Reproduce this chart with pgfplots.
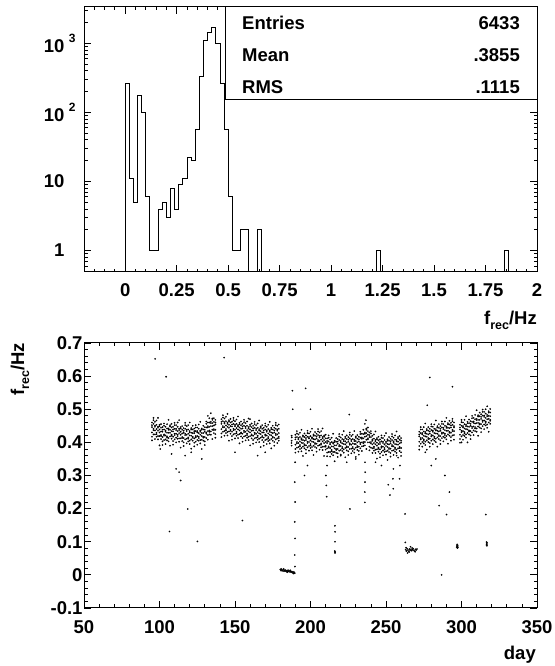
\documentclass[border=0pt]{standalone}
\usepackage{fontspec}
\setmainfont{Liberation Sans}
\usepackage{pgfplots}
\usepackage{pgfplotstable}
\pgfplotsset{compat=1.18}

\pgfplotstableread{
day y1 y2 y3 y4 y5 y6
95 0.446 0.430 0.460 0.417 0.452 0.406
96 0.437 0.456 0.424 0.467 0.441 0.474
97 0.451 0.436 0.447 0.424 0.462 0.410
98 0.425 0.440 0.453 0.429 0.417 0.466
99 0.444 0.419 0.435 0.448 0.409 0.474
100 0.430 0.439 0.419 0.453 0.449 0.391
101 0.444 0.422 0.433 0.410 0.419 0.455
102 0.432 0.416 0.446 0.403 0.438 0.392
103 0.420 0.439 0.407 0.450 0.424 0.457
104 0.436 0.421 0.432 0.409 0.447 0.395
105 0.414 0.429 0.442 0.418 0.406 0.455
106 0.438 0.413 0.429 0.442 0.403 0.468
107 0.429 0.438 0.418 0.452 0.448 0.390
108 0.445 0.423 0.434 0.411 0.420 0.456
109 0.433 0.417 0.447 0.404 0.439 0.393
110 0.422 0.441 0.409 0.452 0.426 0.459
111 0.441 0.426 0.437 0.414 0.452 0.400
112 0.419 0.434 0.447 0.423 0.411 0.460
113 0.437 0.412 0.428 0.441 0.402 0.467
114 0.423 0.432 0.412 0.446 0.442 0.384
115 0.438 0.416 0.427 0.404 0.413 0.449
116 0.429 0.413 0.443 0.400 0.435 0.389
117 0.422 0.441 0.409 0.452 0.426 0.459
118 0.438 0.423 0.434 0.411 0.449 0.397
119 0.411 0.426 0.439 0.415 0.403 0.452
120 0.430 0.405 0.421 0.434 0.395 0.460
121 0.420 0.429 0.409 0.443 0.439 0.381
122 0.439 0.417 0.428 0.405 0.414 0.450
123 0.428 0.412 0.442 0.399 0.434 0.388
124 0.415 0.434 0.402 0.445 0.419 0.452
125 0.434 0.419 0.430 0.407 0.445 0.393
126 0.413 0.428 0.441 0.417 0.405 0.454
127 0.432 0.407 0.423 0.436 0.397 0.462
128 0.419 0.428 0.408 0.442 0.438 0.380
129 0.439 0.417 0.428 0.405 0.414 0.450
130 0.432 0.416 0.446 0.403 0.438 0.392
131 0.426 0.445 0.413 0.456 0.430 0.463
132 0.449 0.434 0.445 0.422 0.460 0.408
133 0.432 0.447 0.460 0.436 0.424 0.473
134 0.458 0.433 0.449 0.462 0.423 0.488
135 0.449 0.458 0.438 0.472 0.468 0.410
136 0.462 0.440 0.451 0.428 0.437 0.473
137 0.454 0.438 0.468 0.425 0.460 0.414
141 0.456 0.440 0.470 0.427 0.462 0.416
142 0.445 0.464 0.432 0.475 0.449 0.482
143 0.461 0.446 0.457 0.434 0.472 0.420
144 0.436 0.451 0.464 0.440 0.428 0.477
145 0.456 0.431 0.447 0.460 0.421 0.486
146 0.444 0.453 0.433 0.467 0.463 0.405
147 0.460 0.438 0.449 0.426 0.435 0.471
148 0.448 0.432 0.462 0.419 0.454 0.408
149 0.437 0.456 0.424 0.467 0.441 0.474
150 0.453 0.438 0.449 0.426 0.464 0.412
151 0.428 0.443 0.456 0.432 0.420 0.469
152 0.448 0.423 0.439 0.452 0.413 0.478
153 0.436 0.445 0.425 0.459 0.455 0.397
154 0.452 0.430 0.441 0.418 0.427 0.463
155 0.442 0.426 0.456 0.413 0.448 0.402
156 0.431 0.450 0.418 0.461 0.435 0.468
157 0.447 0.432 0.443 0.420 0.458 0.406
158 0.422 0.437 0.450 0.426 0.414 0.463
159 0.442 0.417 0.433 0.446 0.407 0.472
160 0.430 0.439 0.419 0.453 0.449 0.391
161 0.446 0.424 0.435 0.412 0.421 0.457
162 0.436 0.420 0.450 0.407 0.442 0.396
163 0.425 0.444 0.412 0.455 0.429 0.462
164 0.441 0.426 0.437 0.414 0.452 0.400
165 0.416 0.431 0.444 0.420 0.408 0.457
166 0.436 0.411 0.427 0.440 0.401 0.466
167 0.425 0.434 0.414 0.448 0.444 0.386
168 0.441 0.419 0.430 0.407 0.416 0.452
169 0.430 0.414 0.444 0.401 0.436 0.390
170 0.420 0.439 0.407 0.450 0.424 0.457
171 0.436 0.421 0.432 0.409 0.447 0.395
172 0.412 0.427 0.440 0.416 0.404 0.453
173 0.432 0.407 0.423 0.436 0.397 0.462
174 0.421 0.430 0.410 0.444 0.440 0.382
175 0.439 0.417 0.428 0.405 0.414 0.450
176 0.430 0.414 0.444 0.401 0.436 0.390
177 0.422 0.441 0.409 0.452 0.426 0.459
178 0.439 0.424 0.435 0.412 0.450 0.398
179 0.413 0.428 0.441 0.417 0.405 0.454
190 0.409 0.393 0.423 0.380 0.415 0.369
191 0.397 0.416 0.384 0.427 0.401 0.434
192 0.413 0.398 0.409 0.386 0.424 0.372
193 0.388 0.403 0.416 0.392 0.380 0.429
194 0.408 0.383 0.399 0.412 0.373 0.438
195 0.398 0.407 0.387 0.421 0.417 0.359
196 0.416 0.394 0.405 0.382 0.391 0.427
197 0.407 0.391 0.421 0.378 0.413 0.367
198 0.398 0.417 0.385 0.428 0.402 0.435
199 0.416 0.401 0.412 0.389 0.427 0.375
200 0.391 0.406 0.419 0.395 0.383 0.432
201 0.411 0.386 0.402 0.415 0.376 0.441
202 0.401 0.410 0.390 0.424 0.420 0.362
203 0.420 0.398 0.409 0.386 0.395 0.431
204 0.412 0.396 0.426 0.383 0.418 0.372
205 0.403 0.422 0.390 0.433 0.407 0.440
206 0.419 0.404 0.415 0.392 0.430 0.378
207 0.393 0.408 0.421 0.397 0.385 0.434
208 0.412 0.387 0.403 0.416 0.377 0.442
209 0.398 0.407 0.387 0.421 0.417 0.359
210 0.412 0.390 0.401 0.378 0.387 0.423
211 0.398 0.382 0.412 0.369 0.404 0.358
212 0.384 0.403 0.371 0.414 0.388 0.421
213 0.398 0.383 0.394 0.371 0.409 0.357
214 0.373 0.388 0.401 0.377 0.365 0.414
215 0.396 0.371 0.387 0.400 0.361 0.426
216 0.382 0.391 0.371 0.405 0.401 0.343
217 0.402 0.380 0.391 0.368 0.377 0.413
218 0.396 0.380 0.410 0.367 0.402 0.356
219 0.388 0.407 0.375 0.418 0.392 0.425
220 0.404 0.389 0.400 0.377 0.415 0.363
221 0.382 0.397 0.410 0.386 0.374 0.423
222 0.404 0.379 0.395 0.408 0.369 0.434
223 0.394 0.403 0.383 0.417 0.413 0.355
224 0.410 0.388 0.399 0.376 0.385 0.421
225 0.402 0.386 0.416 0.373 0.408 0.362
226 0.393 0.412 0.380 0.423 0.397 0.430
227 0.408 0.393 0.404 0.381 0.419 0.367
228 0.382 0.397 0.410 0.386 0.374 0.423
229 0.404 0.379 0.395 0.408 0.369 0.434
230 0.395 0.404 0.384 0.418 0.414 0.356
231 0.411 0.389 0.400 0.377 0.386 0.422
232 0.403 0.387 0.417 0.374 0.409 0.363
233 0.395 0.414 0.382 0.425 0.399 0.432
234 0.415 0.400 0.411 0.388 0.426 0.374
235 0.397 0.412 0.425 0.401 0.389 0.438
236 0.426 0.401 0.417 0.430 0.391 0.456
237 0.419 0.428 0.408 0.442 0.438 0.380
238 0.434 0.412 0.423 0.400 0.409 0.445
239 0.416 0.400 0.430 0.387 0.422 0.376
240 0.397 0.416 0.384 0.427 0.401 0.434
241 0.409 0.394 0.405 0.382 0.420 0.368
242 0.383 0.398 0.411 0.387 0.375 0.424
243 0.403 0.378 0.394 0.407 0.368 0.433
244 0.390 0.399 0.379 0.413 0.409 0.351
245 0.406 0.384 0.395 0.372 0.381 0.417
246 0.395 0.379 0.409 0.366 0.401 0.355
247 0.384 0.403 0.371 0.414 0.388 0.421
248 0.402 0.387 0.398 0.375 0.413 0.361
249 0.379 0.394 0.407 0.383 0.371 0.420
250 0.398 0.373 0.389 0.402 0.363 0.428
251 0.386 0.395 0.375 0.409 0.405 0.347
252 0.405 0.383 0.394 0.371 0.380 0.416
253 0.397 0.381 0.411 0.368 0.403 0.357
254 0.388 0.407 0.375 0.418 0.392 0.425
255 0.403 0.388 0.399 0.376 0.414 0.362
256 0.380 0.395 0.408 0.384 0.372 0.421
257 0.403 0.378 0.394 0.407 0.368 0.433
258 0.393 0.402 0.382 0.416 0.412 0.354
259 0.408 0.386 0.397 0.374 0.383 0.419
260 0.399 0.383 0.413 0.370 0.405 0.359
272 0.418 0.402 0.432 0.389 0.424 0.378
273 0.409 0.428 0.396 0.439 0.413 0.446
274 0.428 0.413 0.424 0.401 0.439 0.387
275 0.405 0.420 0.433 0.409 0.397 0.446
276 0.427 0.402 0.418 0.431 0.392 0.457
277 0.417 0.426 0.406 0.440 0.436 0.378
278 0.435 0.413 0.424 0.401 0.410 0.446
279 0.427 0.411 0.441 0.398 0.433 0.387
280 0.418 0.437 0.405 0.448 0.422 0.455
281 0.436 0.421 0.432 0.409 0.447 0.395
282 0.413 0.428 0.441 0.417 0.405 0.454
283 0.436 0.411 0.427 0.440 0.401 0.466
284 0.426 0.435 0.415 0.449 0.445 0.387
285 0.444 0.422 0.433 0.410 0.419 0.455
286 0.435 0.419 0.449 0.406 0.441 0.395
287 0.426 0.445 0.413 0.456 0.430 0.463
288 0.444 0.429 0.440 0.417 0.455 0.403
289 0.422 0.437 0.450 0.426 0.414 0.463
290 0.444 0.419 0.435 0.448 0.409 0.474
291 0.435 0.444 0.424 0.458 0.454 0.396
292 0.454 0.432 0.443 0.420 0.429 0.465
293 0.445 0.429 0.459 0.416 0.451 0.405
294 0.434 0.453 0.421 0.464 0.438 0.471
295 0.449 0.434 0.445 0.422 0.460 0.408
299 0.439 0.423 0.453 0.410 0.445 0.399
300 0.431 0.450 0.418 0.461 0.435 0.468
301 0.449 0.434 0.445 0.422 0.460 0.408
302 0.427 0.442 0.455 0.431 0.419 0.468
303 0.449 0.424 0.440 0.453 0.414 0.479
304 0.439 0.448 0.428 0.462 0.458 0.400
305 0.458 0.436 0.447 0.424 0.433 0.469
306 0.450 0.434 0.464 0.421 0.456 0.410
307 0.443 0.462 0.430 0.473 0.447 0.480
308 0.463 0.448 0.459 0.436 0.474 0.422
309 0.442 0.457 0.470 0.446 0.434 0.483
310 0.467 0.442 0.458 0.471 0.432 0.497
311 0.459 0.468 0.448 0.482 0.478 0.420
312 0.479 0.457 0.468 0.445 0.454 0.490
313 0.471 0.455 0.485 0.442 0.477 0.431
314 0.462 0.481 0.449 0.492 0.466 0.499
315 0.481 0.466 0.477 0.454 0.492 0.440
316 0.459 0.474 0.487 0.463 0.451 0.500
317 0.479 0.454 0.470 0.483 0.444 0.509
318 0.471 0.480 0.460 0.494 0.490 0.432
319 0.490 0.468 0.479 0.456 0.465 0.501
}\bands

\pgfplotstableread{
day f
180.0 0.016
180.4 0.013
180.8 0.015
181.2 0.012
181.6 0.014
182.0 0.016
182.4 0.011
182.8 0.013
183.2 0.015
183.6 0.012
184.0 0.010
184.4 0.013
184.8 0.011
185.2 0.014
185.6 0.010
186.0 0.012
186.4 0.009
186.8 0.011
187.2 0.008
187.6 0.010
188.0 0.007
188.4 0.009
188.8 0.006
189.2 0.008
189.6 0.005
180.6 0.018
182.2 0.018
184.6 0.008
186.6 0.014
188.6 0.004
189.7 0.025
189.6 0.060
189.8 0.110
189.6 0.160
189.8 0.220
189.6 0.280
189.8 0.340
187.5 0.390
187.5 0.405
187.6 0.415
187.4 0.398
187.5 0.420
216.2 0.066
216.2 0.070
216.3 0.068
216.1 0.072
216.2 0.100
216.3 0.130
216.2 0.148
263.0 0.076
263.5 0.072
264.0 0.079
264.5 0.075
265.0 0.071
265.5 0.078
266.0 0.074
266.5 0.077
267.0 0.073
267.5 0.076
268.0 0.079
268.5 0.074
269.0 0.071
269.5 0.077
270.0 0.075
270.5 0.078
263.3 0.082
265.3 0.069
267.3 0.081
269.3 0.070
266.2 0.085
264.2 0.066
262.6 0.184
262.8 0.098
296.8 0.084
297.0 0.088
297.2 0.085
297.4 0.090
297.6 0.083
297.1 0.092
297.3 0.081
297.5 0.087
316.6 0.090
316.7 0.094
316.8 0.097
316.7 0.092
316.6 0.099
316.8 0.088
97.1 0.652
104.4 0.598
142.8 0.656
188.0 0.556
196.8 0.563
225.7 0.484
236.7 0.467
279.0 0.596
294.0 0.568
277.3 0.512
106.6 0.131
125.1 0.101
154.9 0.164
118.7 0.199
286.8 0.000
316.1 0.182
290.1 0.182
285.2 0.209
226.1 0.199
111.0 0.320
113.0 0.310
114.0 0.285
251.5 0.272
252.6 0.241
236.0 0.219
236.0 0.250
236.1 0.280
236.2 0.310
236.1 0.340
210.7 0.236
210.5 0.270
210.2 0.300
211.0 0.330
254.8 0.260
254.6 0.290
254.9 0.320
259.0 0.290
259.2 0.330
117.0 0.360
121.0 0.370
128.0 0.350
100.5 0.380
108.0 0.365
132.0 0.480
150.0 0.370
165.0 0.360
170.0 0.370
160.0 0.470
188.2 0.500
200.0 0.500
196.0 0.300
198.0 0.330
220.0 0.360
224.0 0.340
230.0 0.350
243.0 0.340
247.0 0.330
257.0 0.360
276.0 0.370
280.0 0.330
283.0 0.350
289.0 0.300
292.0 0.250
300.0 0.400
}\extra

\pgfplotsset{
  rootaxis/.style={
    scale only axis, width=453bp, height=265bp,
    axis line style={line width=1bp},
    every tick/.style={black, line width=0.8bp},
    major tick length=7bp, minor tick length=3.5bp,
    tick label style={font=\fontsize{18.5bp}{20bp}\selectfont\bfseries},
    /pgf/number format/assume math mode=true,
  },
  dots/.style={only marks, mark=*, mark size=0.65bp,
    mark options={draw=none, fill=black!72}},
}

\newcommand{\tenpow}[1]{10\rlap{\hspace{4.5bp}\raisebox{10bp}{\fontsize{12bp}{12bp}\selectfont #1}}}

\begin{document}
\begin{tikzpicture}[x=1bp,y=1bp]
\useasboundingbox (0,0) rectangle (555,666);

% ---------------- top histogram ----------------
\begin{axis}[rootaxis,
  at={(84bp,394bp)}, anchor=south west,
  ymode=log,
  xmin=-0.2, xmax=2, ymin=0.49, ymax=3350,
  xtick={0,0.25,0.5,0.75,1,1.25,1.5,1.75,2},
  xticklabels={0,0.25,0.5,0.75,1,1.25,1.5,1.75,2},
  minor xtick={-0.15,-0.1,-0.05,0.05,0.1,0.15,0.2,0.3,0.35,0.4,0.45,0.55,0.6,0.65,0.7,0.8,0.85,0.9,0.95,1.05,1.1,1.15,1.2,1.3,1.35,1.4,1.45,1.55,1.6,1.65,1.7,1.8,1.85,1.9,1.95},
  ytick={1,10,100,1000},
  yticklabels={1,10,\tenpow{2},\tenpow{3}},
  minor ytick={0.5,0.6,0.7,0.8,0.9,2,3,4,5,6,7,8,9,20,30,40,50,60,70,80,90,200,300,400,500,600,700,800,900,2000,3000},
  xticklabel style={yshift=-8.5bp},
  yticklabel style={xshift=-16bp},
]
\addplot[const plot, black, line width=0.8bp] coordinates {
(0,0.1) (0,266) (0.02,11) (0.04,5) (0.06,176) (0.08,100) (0.10,6)
(0.12,1) (0.14,1) (0.16,4) (0.18,5) (0.20,3) (0.22,8) (0.24,4)
(0.26,9) (0.28,11) (0.30,22) (0.32,20) (0.34,57) (0.36,330)
(0.38,1100) (0.40,1450) (0.42,1680) (0.44,1000) (0.46,262)
(0.48,57) (0.50,6) (0.52,1) (0.54,1) (0.56,2) (0.58,2) (0.60,0.1)
(0.64,2) (0.66,0.1) (1.22,1) (1.24,0.1) (1.84,1) (1.86,0.1) (2,0.1)
};
\end{axis}

% stats box
\draw[line width=1bp, fill=white] (225.5,566) rectangle (537,659);
\begin{scope}[every node/.style={inner sep=0pt, font=\fontsize{18.5bp}{20bp}\selectfont\bfseries}]
\node[anchor=base west] at (242,636) {Entries};
\node[anchor=base east] at (520,636) {6433};
\node[anchor=base west] at (242,604.3) {Mean};
\node[anchor=base east] at (520,604.3) {.3855};
\node[anchor=base west] at (242,572.7) {RMS};
\node[anchor=base east] at (520,572.7) {.1115};
\node[anchor=base east] at (537,341) {f\raisebox{-5bp}{\fontsize{12.5bp}{13bp}\selectfont rec}/Hz};
\node[anchor=base east] at (536,6) {day};
\node[anchor=base east, rotate=90] at (24,323) {f\raisebox{-5bp}{\fontsize{12.5bp}{13bp}\selectfont rec}/Hz};
\end{scope}

% ---------------- bottom scatter ----------------
\begin{axis}[rootaxis,
  at={(84bp,58bp)}, anchor=south west,
  xmin=50, xmax=350, ymin=-0.1, ymax=0.7,
  xtick={50,100,150,200,250,300,350},
  xticklabels={50,100,150,200,250,300,350},
  minor x tick num=4,
  ytick={-0.1,0,0.1,0.2,0.3,0.4,0.5,0.6,0.7},
  yticklabels={-0.1,0,0.1,0.2,0.3,0.4,0.5,0.6,0.7},
  minor y tick num=4,
  xticklabel style={yshift=-9bp},
  yticklabel style={xshift=2bp},
]
\addplot[dots] table[x=day, y=y1] {\bands};
\addplot[dots] table[x=day, y=y2] {\bands};
\addplot[dots] table[x=day, y=y3] {\bands};
\addplot[dots] table[x=day, y=y4] {\bands};
\addplot[dots] table[x=day, y=y5] {\bands};
\addplot[dots] table[x=day, y=y6] {\bands};
\addplot[dots] table[x=day, y=f] {\extra};
\end{axis}
\end{tikzpicture}
\end{document}
